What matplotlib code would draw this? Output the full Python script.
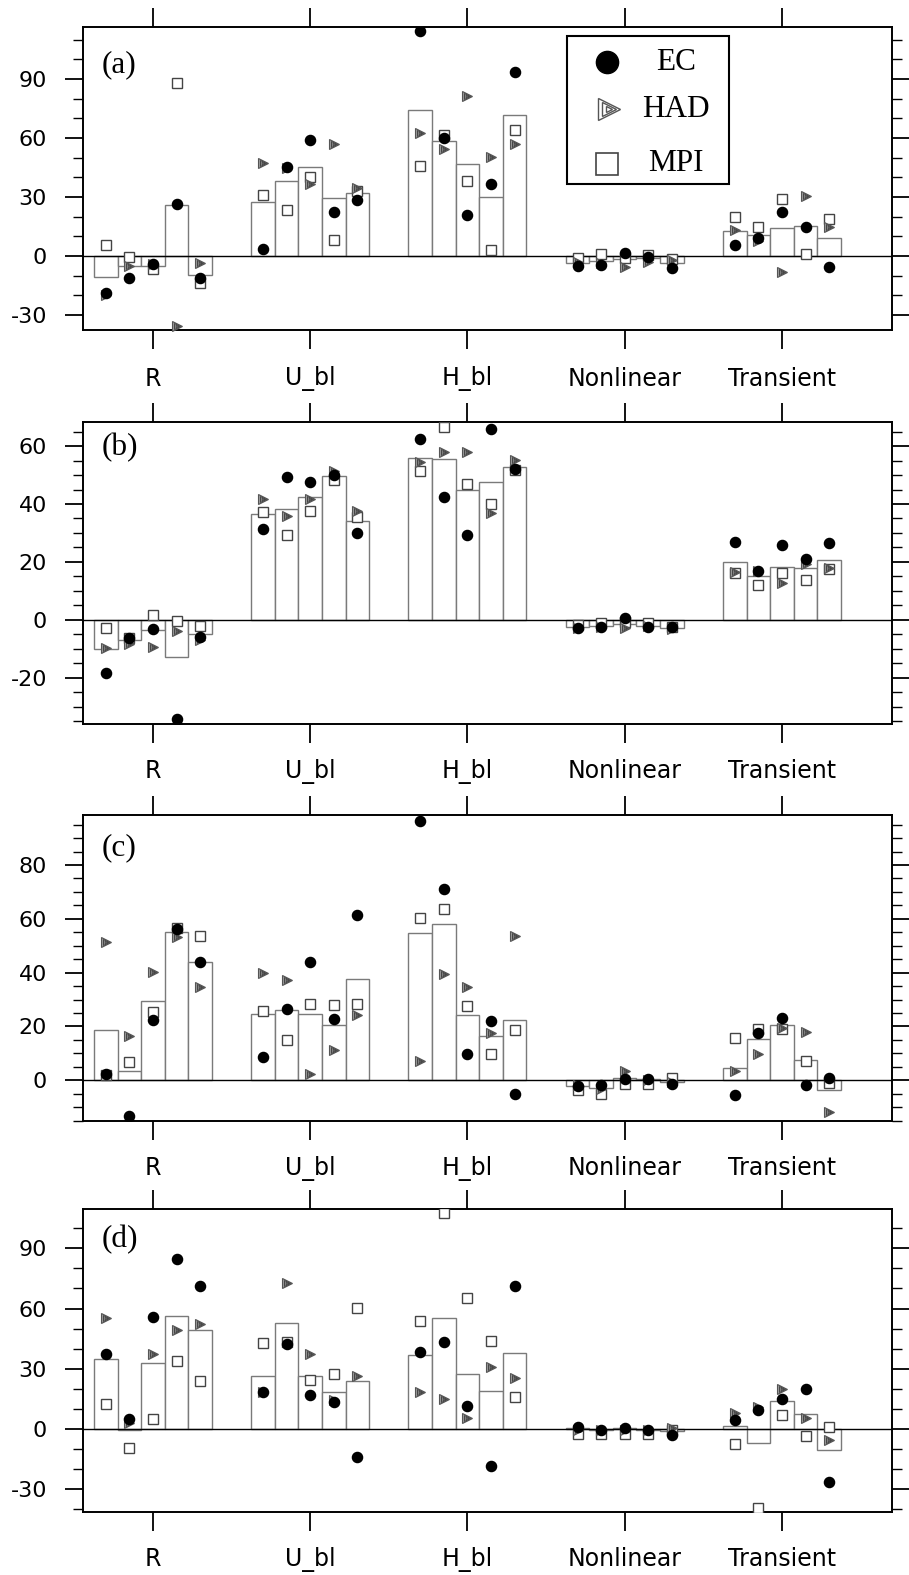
import numpy as np
import matplotlib
matplotlib.use('Agg')
import matplotlib.pyplot as plt
from matplotlib.ticker import MultipleLocator
from matplotlib.patches import Rectangle

plt.rcParams['axes.unicode_minus'] = False

groups = ['R', 'U_bl', 'H_bl', 'Nonlinear', 'Transient']
panel_names = ['(a)', '(b)', '(c)', '(d)']

# ---- panel (a) ----
bars_a = [[-10.8, -5.2, -5.2, 26.1, -9.7],
          [27.3, 38.0, 45.4, 29.3, 31.9],
          [74.1, 58.5, 46.8, 29.8, 71.5],
          [-3.7, -2.4, -1.7, -1.2, -3.7],
          [12.7, 10.7, 14.4, 15.4, 9.3]]
ec_a = [[-18.6, -11.2, -4.2, 26.3, -11.0],
        [3.4, 45.4, 59.0, 22.5, 28.3],
        [114.4, 60.2, 20.7, 36.4, 93.7],
        [-5.1, -4.6, 1.4, -0.5, -5.9],
        [5.4, 9.3, 22.5, 14.7, -5.8]]
had_a = [[-19.8, -4.9, -4.0, -35.6, -3.7],
         [47.3, 44.6, 36.8, 57.0, 34.7],
         [62.4, 54.4, 81.5, 50.5, 56.9],
         [-2.9, -3.7, -5.4, -2.9, -2.0],
         [13.2, 7.8, -8.3, 30.7, 14.9]]
mpi_a = [[5.6, -0.3, -6.8, 88.1, -13.9],
         [31.0, 23.6, 40.3, 8.3, 33.1],
         [45.8, 61.5, 38.1, 3.1, 64.1],
         [-1.2, 0.8, -1.2, 0.5, -1.7],
         [19.7, 14.9, 28.8, 0.8, 18.8]]

# ---- panel (b) ----
bars_b = [[-10.2, -7.0, -3.6, -12.8, -4.9],
          [36.7, 38.4, 42.3, 49.7, 34.3],
          [56.0, 55.5, 44.7, 47.6, 52.8],
          [-2.6, -2.2, -1.6, -2.2, -3.0],
          [20.0, 15.1, 18.2, 17.9, 20.6]]
ec_b = [[-18.2, -6.4, -3.3, -34.1, -6.1],
        [31.3, 49.4, 47.6, 49.9, 29.9],
        [62.4, 42.5, 29.2, 66.0, 52.0],
        [-2.9, -2.6, 0.7, -2.5, -2.6],
        [27.0, 16.8, 25.7, 20.9, 26.4]]
had_b = [[-9.9, -8.2, -9.3, -3.8, -7.0],
         [41.7, 35.9, 41.6, 51.4, 37.5],
         [54.5, 57.9, 58.0, 36.9, 55.1],
         [-3.0, -2.4, -3.0, -2.2, -3.3],
         [16.6, 16.9, 12.8, 19.4, 18.0]]
mpi_b = [[-2.9, -6.2, 1.5, -0.3, -2.1],
         [37.1, 29.4, 37.5, 48.2, 35.5],
         [51.4, 66.6, 46.8, 40.1, 51.6],
         [-1.8, -1.0, -0.6, -1.0, -2.4],
         [16.3, 12.0, 16.2, 13.7, 17.7]]

# ---- panel (c) ----
bars_c = [[18.5, 3.3, 29.4, 55.2, 44.0],
          [24.7, 26.2, 24.7, 20.6, 37.8],
          [54.6, 57.9, 24.1, 16.5, 22.3],
          [-2.2, -3.0, 1.0, 0.5, -0.5],
          [4.6, 15.4, 20.5, 7.7, -3.7]]
ec_c = [[2.2, -13.4, 22.3, 56.1, 43.8],
        [8.6, 26.4, 43.8, 22.7, 61.4],
        [96.5, 71.0, 9.9, 22.1, -5.2],
        [-2.0, -1.9, 0.6, 0.6, -1.2],
        [-5.6, 17.4, 23.0, -1.9, 0.9]]
had_c = [[51.4, 16.5, 40.3, 53.1, 34.7],
         [39.7, 37.2, 2.2, 11.2, 24.2],
         [7.2, 39.5, 34.7, 17.7, 53.5],
         [-1.9, -3.1, 3.6, 0.0, -0.8],
         [3.5, 9.6, 19.6, 18.0, -11.8]]
mpi_c = [[1.9, 6.8, 25.2, 56.7, 53.6],
         [25.7, 15.0, 28.3, 27.9, 28.2],
         [60.2, 63.8, 27.7, 9.8, 18.6],
         [-3.7, -5.0, -1.2, -1.2, 0.9],
         [15.8, 19.2, 19.2, 7.1, -1.0]]

# ---- panel (d) ----
bars_d = [[34.9, -0.7, 32.6, 56.1, 49.1],
          [26.6, 52.6, 26.3, 18.5, 24.1],
          [36.6, 55.2, 27.5, 18.8, 37.6],
          [0.3, -0.6, 0.4, -0.5, -0.8],
          [1.5, -6.8, 14.0, 7.2, -10.3]]
ec_d = [[37.1, 4.8, 55.6, 84.7, 71.4],
        [18.5, 42.3, 16.8, 13.3, -14.0],
        [38.3, 43.3, 11.6, -18.3, 71.0],
        [1.0, -0.3, 0.5, -0.3, -2.8],
        [4.3, 9.3, 14.8, 20.0, -26.6]]
had_d = [[55.1, 2.7, 37.3, 49.4, 52.1],
         [18.5, 72.5, 37.1, 14.6, 26.5],
         [18.6, 15.0, 5.3, 31.1, 25.6],
         [-0.7, -0.5, -0.3, -0.5, 0.7],
         [7.7, 11.0, 19.8, 5.2, -5.3]]
mpi_d = [[12.3, -9.5, 4.7, 33.8, 24.0],
         [42.8, 43.3, 24.6, 27.5, 60.2],
         [53.6, 107.5, 65.4, 43.6, 16.0],
         [-2.3, -2.3, -2.7, -2.3, -0.7],
         [-7.7, -39.4, 6.8, -3.5, 0.8]]

panels = [(bars_a, ec_a, had_a, mpi_a),
          (bars_b, ec_b, had_b, mpi_b),
          (bars_c, ec_c, had_c, mpi_c),
          (bars_d, ec_d, had_d, mpi_d)]

ylims = [(-37.6, 116.4), (-36.0, 68.3), (-15.1, 98.6), (-41.4, 109.6)]
yminor = [10, 5, 5, 10]
yticks = [[-30, 0, 30, 60, 90], [-20, 0, 20, 40, 60], [0, 20, 40, 60, 80], [-30, 0, 30, 60, 90]]

# axes rectangles (figure fraction)
rects = [[0.0913, 0.7905, 0.890, 0.1924],
         [0.0913, 0.5403, 0.890, 0.1917],
         [0.0913, 0.2883, 0.890, 0.1943],
         [0.0913, 0.0400, 0.890, 0.1924]]
label_y = [0.875, 0.914, 0.892, 0.898]
name_off = [-35, -34, -34, -34]

fig = plt.figure(figsize=(9.09, 15.75), dpi=100)

x = np.arange(1, 6)
w = 0.15
offs = (np.arange(5) - 2) * w
xs = (x[:, None] + offs[None, :]).ravel()


def had_marker(ax, xx, yy, ms):
    # nested triangle outlines, like the NCL marker
    ax.plot(xx, yy, '>', ms=ms, mfc='#9a9a9a', mec='#555555', mew=0.8, ls='none', zorder=5, clip_on=False)
    ax.plot(xx, yy, '>', ms=ms * 0.62, mfc='none', mec='#444444', mew=0.7, ls='none', zorder=5, clip_on=False)
    ax.plot(xx, yy, '>', ms=ms * 0.28, mfc='#666666', mec='#444444', mew=0.5, ls='none', zorder=5, clip_on=False)


for i, (bars, ec, had, mpi) in enumerate(panels):
    ax = fig.add_axes(rects[i])
    ax.bar(xs, np.ravel(bars), width=w, facecolor='white', edgecolor='#7a7a7a', linewidth=1.0, zorder=2)
    ax.axhline(0, color='black', lw=1.0, zorder=3)
    ax.plot(xs, np.ravel(mpi), 's', ms=6.7, mfc='white', mec='#444444', mew=1.0, ls='none', zorder=4)
    had_marker(ax, xs, np.ravel(had), 7.5)
    ax.plot(xs, np.ravel(ec), 'o', ms=7.3, mfc='black', mec='black', ls='none', zorder=6)

    ax.set_xlim(0.555, 5.70)
    ax.set_ylim(*ylims[i])
    ax.set_xticks(x)
    ax.set_xticklabels([])
    ax.set_yticks(yticks[i])
    ax.yaxis.set_minor_locator(MultipleLocator(yminor[i]))
    for sp in ax.spines.values():
        sp.set_linewidth(1.4)
    ax.tick_params(axis='x', which='major', direction='out', length=13.7, width=1.3,
                   top=True, bottom=True, labelbottom=False)
    ax.tick_params(axis='y', which='major', direction='out', length=13, width=1.3,
                   left=True, right=True, labelsize=16, pad=13)
    ax.tick_params(axis='y', which='minor', direction='out', length=7, width=1.0,
                   left=True, right=True)

    for g, name in zip(x, groups):
        ax.annotate(name, xy=(g, 0), xycoords=('data', 'axes fraction'),
                    xytext=(0, name_off[i]), textcoords='offset points',
                    ha='center', va='center', fontsize=17)

    ax.text(0.023, label_y[i], panel_names[i], transform=ax.transAxes,
            ha='left', va='center', fontsize=22.5, family='Liberation Serif')

    if i == 0:
        # legend box
        ax.add_patch(Rectangle((0.598, 0.482), 0.201, 0.488, transform=ax.transAxes,
                               facecolor='white', edgecolor='black', lw=1.5, zorder=7))
        rows = [0.884, 0.729, 0.548]
        ax.plot([0.648], [rows[0]], 'o', ms=16, mfc='black', mec='black',
                transform=ax.transAxes, zorder=8)
        for s, c in [(16, 'white'), (10.5, 'none'), (5, 'none')]:
            ax.plot([0.650], [rows[1]], '>', ms=s, mfc=c, mec='#555555', mew=1.0,
                    transform=ax.transAxes, zorder=8)
        ax.plot([0.648], [rows[2]], 's', ms=16, mfc='white', mec='#444444', mew=1.2,
                transform=ax.transAxes, zorder=8)
        for lab, ry in zip(['EC', 'HAD', 'MPI'], rows):
            ax.text(0.733, ry, lab, transform=ax.transAxes, ha='center', va='center',
                    fontsize=22.5, family='Liberation Serif', zorder=8)

fig.savefig('out.png', dpi=100)
